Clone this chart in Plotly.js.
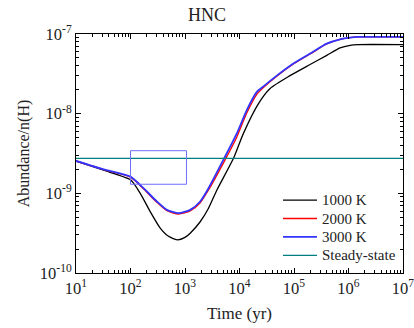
<!DOCTYPE html>
<html>
<head>
<meta charset="utf-8">
<script src="https://cdn.plot.ly/plotly-3.0.1.min.js"></script>
<style>html,body{margin:0;padding:0;background:#fff;}#chart{width:414px;height:328px;}</style>
</head>
<body>
<div id="chart"></div>
<script>
// Time (yr)
const tBlack = [10, 32, 100, 151, 230, 351, 450, 535, 729, 1000, 1245, 1900, 2700, 3850, 7760, 11800, 22300, 36500, 84700, 197000, 400000, 700000, 1070000, 1500000, 1e7];
const yBlack = [2.55e-9, 1.95e-9, 1.48e-9, 1.0e-9, 5.9e-10, 3.66e-10, 3.05e-10, 2.82e-10, 2.61e-10, 2.8e-10, 3.16e-10, 4.4e-10, 6.5e-10, 1.1e-9, 2.75e-9, 5.66e-9, 1.34e-8, 2.07e-8, 3.0e-8, 4.14e-8, 5.4e-8, 6.68e-8, 7.21e-8, 7.36e-8, 7.36e-8];

const tRed = [10, 32, 100, 173, 305, 466, 760, 1245, 1900, 2700, 5230, 8940, 13600, 20800, 27500, 48300, 97500, 197000, 399000, 700000, 1070000, 1500000, 1e7];
const yRed = [2.55e-9, 1.99e-9, 1.6e-9, 1.14e-9, 7.7e-10, 6.05e-10, 5.5e-10, 6.0e-10, 7.6e-10, 1.1e-9, 2.5e-9, 5.1e-9, 1.02e-8, 1.75e-8, 2.13e-8, 2.95e-8, 4.2e-8, 5.6e-8, 7.5e-8, 8.55e-8, 9.0e-8, 9.18e-8, 9.18e-8];

const tBlue = [10, 32, 100, 173, 305, 466, 760, 1245, 1900, 2700, 5230, 8940, 13600, 20800, 27500, 48300, 97500, 197000, 399000, 700000, 1070000, 1500000, 1e7];
const yBlue = [2.55e-9, 2.0e-9, 1.62e-9, 1.16e-9, 7.9e-10, 6.2e-10, 5.63e-10, 6.2e-10, 7.9e-10, 1.16e-9, 2.75e-9, 5.66e-9, 1.11e-8, 1.88e-8, 2.2e-8, 3.0e-8, 4.26e-8, 5.68e-8, 7.58e-8, 8.58e-8, 9.0e-8, 9.18e-8, 9.18e-8];

const tSteady = [10, 1e7];
const ySteady = [2.75e-9, 2.75e-9];

// Highlight box corners (time range, abundance range)
const boxT = [100, 1064];
const boxY = [1.30e-9, 3.43e-9];

const seriesNames = ['1000 K', '2000 K', '3000 K', 'Steady-state'];
const seriesColors = ['#000000', '#ff0000', '#3333ff', '#008080'];
const seriesWidths = [1.3, 1.3, 1.8, 1.3];

const xTickVals = [1e1, 1e2, 1e3, 1e4, 1e5, 1e6, 1e7];
const xTickText = ['10<sup>1</sup>', '10<sup>2</sup>', '10<sup>3</sup>', '10<sup>4</sup>', '10<sup>5</sup>', '10<sup>6</sup>', '10<sup>7</sup>'];
const yTickVals = [1e-10, 1e-9, 1e-8, 1e-7];
const yTickText = ['10<sup>-10</sup>', '10<sup>-9</sup>', '10<sup>-8</sup>', '10<sup>-7</sup>'];

const FONT = '"Liberation Serif", "Times New Roman", Times, serif';

const xs = [tBlack, tRed, tBlue, tSteady];
const ys = [yBlack, yRed, yBlue, ySteady];

const traces = xs.map((x, i) => ({
  x: x, y: ys[i], name: seriesNames[i], mode: 'lines', showlegend: false,
  line: {color: seriesColors[i], width: seriesWidths[i], shape: i < 3 ? 'spline' : 'linear', smoothing: 0.6}
}));
traces.push({x: [boxT[0], boxT[1], boxT[1], boxT[0], boxT[0]], y: [boxY[0], boxY[0], boxY[1], boxY[1], boxY[0]],
   mode: 'lines', line: {color: '#6f6fff', width: 1}, showlegend: false, hoverinfo: 'skip'});

// manual legend (Plotly's built-in legend rows are taller than the reference's)
const legX0 = 0.633, legX1 = 0.737, legTextX = 0.747, legY0 = 0.305, legStep = 0.077;
const shapes = [], annotations = [];
seriesNames.forEach((n, i) => {
  const yy = legY0 - i * legStep;
  shapes.push({type: 'line', xref: 'paper', yref: 'paper', x0: legX0, x1: legX1, y0: yy, y1: yy,
    line: {color: seriesColors[i], width: seriesWidths[i]}});
  annotations.push({xref: 'paper', yref: 'paper', x: legTextX, y: yy, xanchor: 'left', yanchor: 'middle',
    text: n, showarrow: false, font: {family: FONT, size: 15, color: '#222'}});
});

const axisCommon = {
  type: 'log', showgrid: false, zeroline: false,
  showline: true, linecolor: '#000', linewidth: 1, mirror: 'allticks',
  ticks: 'inside', ticklen: 5, tickcolor: '#000', tickwidth: 1,
  tickmode: 'array', ticklabeloverflow: 'allow',
  tickfont: {family: FONT, size: 16.5, color: '#222'},
  minor: {ticks: 'inside', ticklen: 3, tickcolor: '#000', dtick: 'D1', showgrid: false}
};

const layout = {
  width: 414, height: 328,
  margin: {l: 76, r: 11, t: 34, b: 55},
  paper_bgcolor: '#fff', plot_bgcolor: '#fff',
  title: {text: 'HNC', font: {family: FONT, size: 18, color: '#222'}, x: 0.5, xanchor: 'center', y: 0.955, yanchor: 'middle'},
  xaxis: Object.assign({}, axisCommon, {
    range: [1, 7], tickvals: xTickVals, ticktext: xTickText,
    title: {text: 'Time (yr)', font: {family: FONT, size: 17, color: '#222'}, standoff: 10}
  }),
  yaxis: Object.assign({}, axisCommon, {
    range: [-10, -7], tickvals: yTickVals, ticktext: yTickText,
    title: {text: 'Abundance/n(H)', font: {family: FONT, size: 16, color: '#222'}, standoff: 6}
  }),
  shapes: shapes,
  annotations: annotations,
  showlegend: false
};

Plotly.newPlot('chart', traces, layout, {displayModeBar: false, staticPlot: true});
</script>
</body>
</html>
